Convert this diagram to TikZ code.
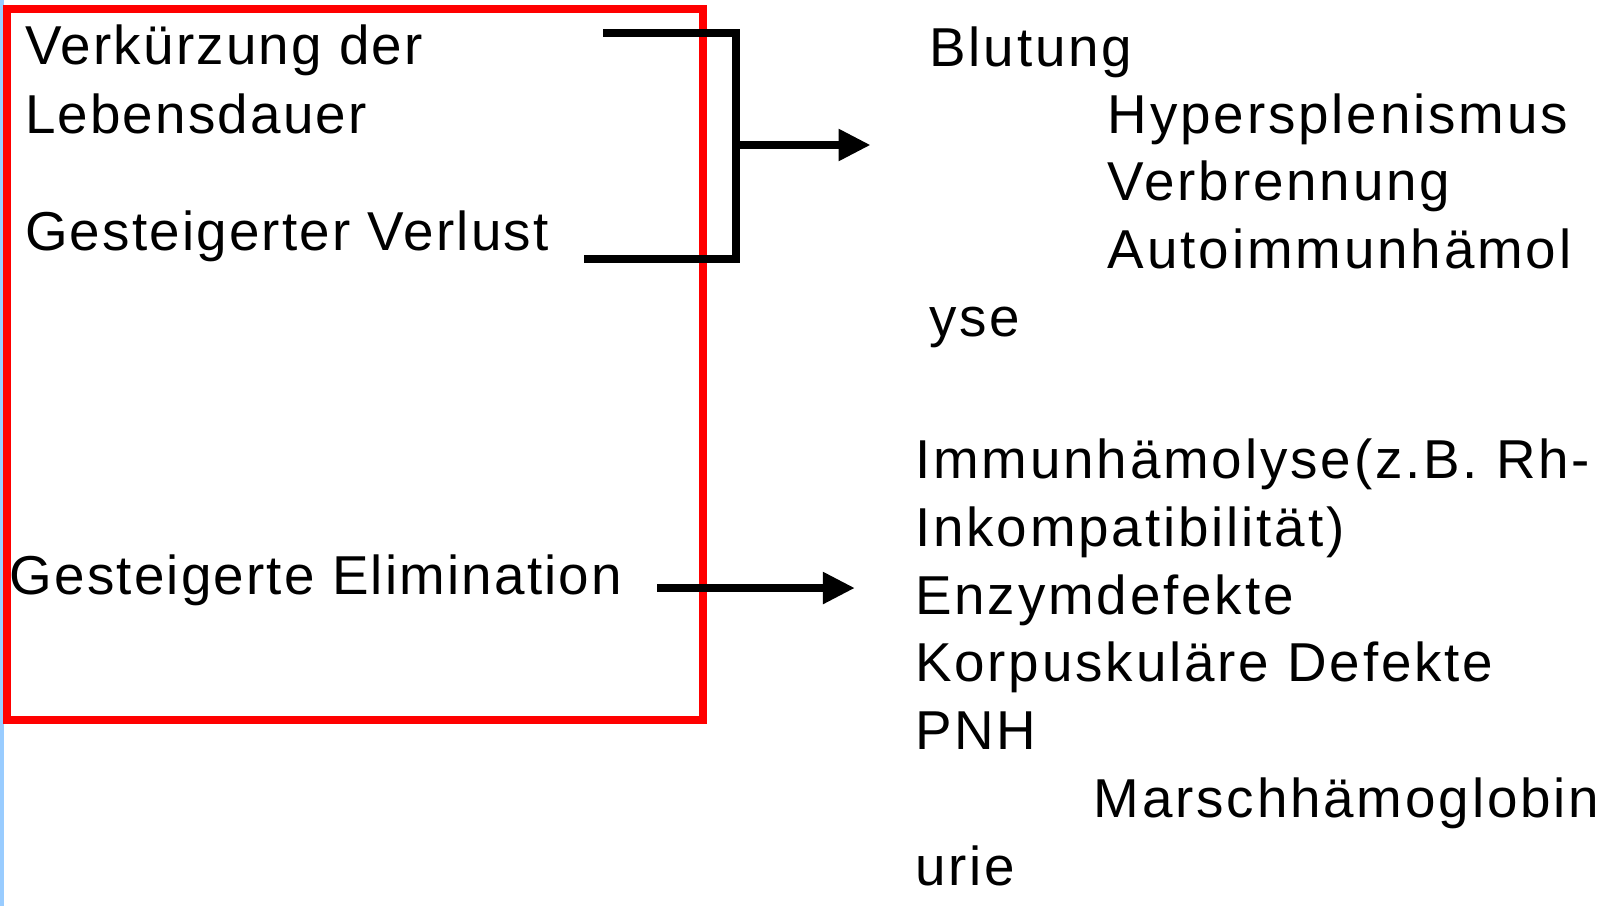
\documentclass[tikz,border=0pt]{standalone}
\usepackage{fontspec}
\setmainfont[LetterSpace=4.0]{Liberation Sans}
\newfontfamily\rightfont[LetterSpace=5.2]{Liberation Sans}
\usetikzlibrary{arrows.meta}
\definecolor{stripblue}{RGB}{153,204,255}
\definecolor{boxred}{RGB}{255,0,0}
\begin{document}
\begin{tikzpicture}[x=0.5128pt,y=-0.5128pt,
  txt/.style={anchor=base west,inner sep=0pt,font=\fontsize{27.4}{33}\selectfont},
  rtxt/.style={anchor=base west,inner sep=0pt,font=\rightfont\fontsize{27.4}{33}\selectfont},
  conn/.style={line width=4pt,line join=miter},
  arr/.style={conn,-{Triangle[length=16pt,width=15pt]}},
  frame/.style={draw=boxred,line width=4pt}]
\useasboundingbox (0,0) rectangle (1568,883);
\fill[white] (0,0) rectangle (1568,883);
\fill[stripblue] (0,0) rectangle (3.5,883);
\draw[frame] (7.3,8.8) rectangle (685.5,702);
% left labels
\node[txt] (vk1) at (24,62.5) {Verkürzung der};
\node[txt] (vk2) at (24,129.7) {Lebensdauer};
\node[txt] (gv) at (24,243.8) {Gesteigerter Verlust};
\node[txt] (ge) at (9,580) {Gesteigerte Elimination};
% right labels
\node[rtxt] (r1) at (906,65) {Blutung};
\node[rtxt] (r2) at (1080,130) {Hypersplenismus};
\node[rtxt] (r3) at (1080,196) {Verbrennung};
\node[rtxt] (r4) at (1080,262) {Autoimmunhämol};
\node[rtxt] (r5) at (906,328) {yse};
\node[rtxt] (s1) at (892,467) {Immunhämolyse(z.B. Rh-};
\node[rtxt] (s2) at (892,533) {Inkompatibilität)};
\node[rtxt] (s3) at (892,599) {Enzymdefekte};
\node[rtxt] (s4) at (892,665) {Korpuskuläre Defekte};
\node[rtxt] (s5) at (892,731) {PNH};
\node[rtxt] (s6) at (1066,797) {Marschhämoglobin};
\node[rtxt] (s7) at (892,863) {urie};
% bracket and arrows
\coordinate (bt) at (588,32.2);
\coordinate (bb) at (569.5,253);
\coordinate (bj) at (717.7,141.4);
\coordinate (tgt1) at (849,141.4);
\coordinate (es) at (640.7,573.4);
\coordinate (tgt2) at (833.7,573.4);
\draw[conn] (bt) -| (bj |- bb) -- (bb);
\draw[arr] (bj) -- (tgt1);
\draw[arr] (es) -- (tgt2);
\end{tikzpicture}
\end{document}
